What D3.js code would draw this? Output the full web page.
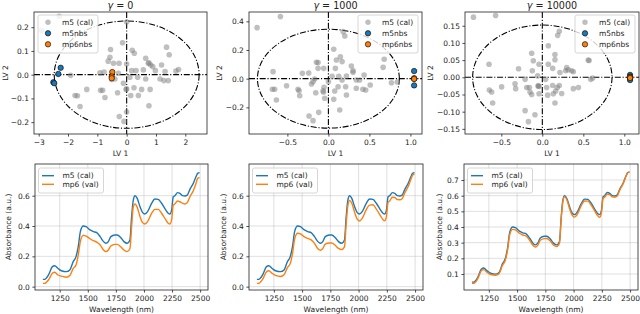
<!DOCTYPE html>
<html>
<head>
<meta charset="utf-8">
<script src="https://cdn.jsdelivr.net/npm/d3@7"></script>
<style>
  body { margin: 0; background: #fff; }
  text { font-family: "DejaVu Sans", sans-serif; }
</style>
</head>
<body>
<script>
// ---- data ----
var gammas = ['0', '1000', '10000'];

// LV1 / LV2 scores, one array per panel
var cal0 = [[-2.30,0.246],[-2.9,0.185],[0.0,0.222],[-0.14,0.134],[0.19,0.103],[0.26,0.09],[1.36,0.116],[1.45,0.084],
  [-0.55,0.106],[-0.57,0.073],[-0.63,0.057],[-0.45,0.048],[-0.26,0.048],[0.0,0.045],[0.65,0.069],[0.74,0.048],[0.76,0.05],
  [0.82,0.041],[0.89,0.034],[1.19,0.041],[1.31,0.013],[1.68,0.015],[1.77,0.022],[0.17,0.017],[0.32,0.017],[0.57,0.020],
  [0.98,0.017],[-1.91,-0.003],[-0.91,0.008],[-0.77,0.011],[-0.28,0.006],[-0.40,-0.018],[-0.51,-0.02],[-0.11,-0.036],
  [0.11,-0.011],[0.375,-0.011],[0.65,-0.018],[1.14,-0.018],[1.27,-0.025],[1.42,-0.025],[-1.36,-0.062],[-0.89,-0.066],
  [-0.82,-0.066],[-0.74,-0.096],[-0.31,-0.076],[-0.02,-0.062],[0.0,-0.06],[0.25,-0.055],[0.14,-0.088],[0.51,-0.062],
  [0.80,-0.062],[0.40,-0.088],[-1.76,-0.088],[-1.68,-0.089],[-1.59,-0.134],[0.76,-0.131],[0.0,-0.157],[-0.25,-0.176],
  [-0.09,-0.197]];
var m5nbs0 = [[-2.25,0.029],[-2.33,0.003],[-2.5,-0.032],[-2.47,-0.036]];
var mp6nbs0 = [[-0.49,0.011],[-0.51,-0.008],[-0.51,-0.015]];

var cal1 = [[-0.87,0.356],[-0.585,0.433],[0.18,0.328],[0.2,0.298],[0.065,0.205],[0.146,0.153],[0.098,0.13],[0.167,0.119],
  [0.68,0.135],[-0.146,0.114],[-0.126,0.112],[-0.126,0.072],[-0.057,0.072],[0.085,0.072],[0.28,0.088],[0.3,0.056],
  [0.3,0.044],[0.667,0.079],[-0.675,0.049],[-0.317,0.037],[-0.24,0.04],[0.22,0.019],[0.045,0.016],[0.126,0.016],
  [0.435,0.026],[0.768,-0.028],[0.84,-0.023],[-0.167,-0.002],[-0.187,-0.021],[0.0,-0.021],[0.167,-0.009],[0.34,-0.009],
  [0.38,-0.009],[-0.51,-0.049],[-0.655,-0.074],[-0.683,-0.074],[-0.37,-0.074],[-0.358,-0.084],[-0.35,-0.119],
  [-0.207,-0.037],[-0.053,-0.06],[-0.065,-0.084],[-0.06,-0.095],[-0.154,-0.098],[0.077,-0.086],[0.118,-0.056],
  [0.21,-0.056],[0.22,-0.114],[0.34,-0.067],[0.42,-0.074],[0.455,-0.079],[0.51,-0.044],[-0.045,-0.137],[0.065,-0.144],
  [-0.634,-0.149],[0.138,-0.219],[-0.118,-0.235],[-0.236,-0.26],[-0.187,-0.293]];
var m5nbs1 = [[1.045,0.053],[1.045,0.0],[1.045,-0.047]];
var mp6nbs1 = [[1.045,0.003],[1.045,-0.002]];

var cal2 = [[-0.84,0.175],[-0.57,0.18],[0.207,0.134],[0.187,0.122],[0.073,0.092],[0.154,0.066],[-0.13,0.07],[0.154,0.051],
  [-0.11,0.048],[-0.04,0.038],[-0.65,0.038],[0.073,0.038],[0.126,0.026],[0.56,0.05],[0.57,0.049],[-0.29,0.025],
  [-0.122,0.019],[-0.057,0.004],[-0.21,-0.006],[0.297,0.028],[0.317,0.022],[0.358,0.019],[0.285,0.019],[0.215,0.014],
  [0.378,0.016],[0.59,-0.006],[0.614,-0.002],[0.04,-0.006],[-0.333,-0.019],[-0.325,-0.033],[-0.496,-0.028],[-0.19,-0.03],
  [-0.158,-0.03],[-0.049,-0.024],[-0.05,-0.026],[-0.04,-0.027],[0.053,-0.03],[0.126,-0.024],[0.163,-0.04],[0.183,-0.03],
  [0.207,-0.024],[0.378,-0.033],[0.44,-0.03],[0.236,-0.047],[0.134,-0.048],[-0.646,-0.037],[-0.618,-0.043],
  [-0.606,-0.075],[-0.15,-0.043],[-0.13,-0.05],[-0.04,-0.048],[0.065,-0.052],[0.154,-0.075],[-0.21,-0.097],
  [-0.09,-0.109],[-0.17,-0.129]];
var m5nbs2 = [[1.07,0.007],[1.07,0.002],[1.07,-0.004],[1.07,-0.008]];
var mp6nbs2 = [[1.07,0.0],[1.07,-0.002]];

var ellipseRx = [2.47, 0.865, 0.85];
var ellipseRy = [0.226, 0.345, 0.152];

var lvXTicks = [[-3,-2,-1,0,1,2], [-0.5,0,0.5,1], [-0.5,0,0.5,1]];
var lvYTicks = [[-0.2,-0.1,0,0.1,0.2], [-0.2,0,0.2,0.4], [-0.15,-0.1,-0.05,0,0.05,0.1,0.15]];
var lvXDomains = [[-3.16,2.74], [-0.968,1.141], [-0.943,1.179]];
var lvYDomains = [[-0.25,0.264], [-0.386,0.465], [-0.165,0.19]];

// mean spectra
var wavelength = [1100,1115,1150,1185,1205,1235,1265,1310,1340,1370,1395,1415,1435,1460,1485,1520,1550,1580,1610,1640,
  1662,1683,1705,1740,1762,1792,1822,1850,1875,1890,1905,1920,1940,1965,1988,2008,2032,2068,2097,2127,2157,2195,2216,
  2231,2246,2261,2275,2299,2320,2344,2364,2385,2409,2439,2463,2478,2495];
var m5cal = [0.048,0.048,0.077,0.132,0.138,0.120,0.105,0.099,0.110,0.165,0.198,0.264,0.367,0.400,0.396,0.374,0.363,0.356,
  0.330,0.297,0.286,0.297,0.330,0.341,0.341,0.325,0.297,0.286,0.308,0.460,0.571,0.600,0.582,0.527,0.488,0.479,0.495,
  0.550,0.578,0.576,0.550,0.505,0.484,0.479,0.505,0.593,0.600,0.620,0.615,0.600,0.598,0.604,0.642,0.681,0.725,0.747,0.752];
var mp6val0 = [0.022,0.022,0.044,0.088,0.095,0.077,0.070,0.062,0.073,0.120,0.143,0.209,0.303,0.338,0.334,0.316,0.303,0.294,
  0.275,0.242,0.231,0.242,0.268,0.279,0.279,0.264,0.242,0.231,0.250,0.396,0.527,0.545,0.523,0.462,0.422,0.413,0.429,
  0.484,0.510,0.510,0.484,0.440,0.418,0.413,0.440,0.538,0.545,0.565,0.560,0.550,0.545,0.554,0.593,0.633,0.681,0.714,0.719];
var mp6val1 = [0.022,0.022,0.048,0.098,0.105,0.088,0.074,0.067,0.078,0.126,0.152,0.218,0.318,0.352,0.348,0.328,0.318,0.309,
  0.285,0.250,0.240,0.252,0.280,0.288,0.288,0.274,0.252,0.244,0.262,0.412,0.535,0.568,0.550,0.490,0.445,0.433,0.450,
  0.508,0.538,0.540,0.512,0.466,0.442,0.435,0.462,0.555,0.565,0.590,0.588,0.574,0.573,0.580,0.620,0.660,0.708,0.735,0.742];
var mp6val2 = [0.040,0.040,0.068,0.122,0.128,0.110,0.097,0.092,0.102,0.155,0.186,0.250,0.352,0.385,0.382,0.360,0.349,0.342,
  0.317,0.283,0.272,0.283,0.315,0.326,0.327,0.312,0.285,0.275,0.296,0.448,0.562,0.592,0.574,0.515,0.474,0.463,0.480,
  0.537,0.566,0.565,0.538,0.492,0.470,0.462,0.490,0.582,0.590,0.610,0.606,0.592,0.590,0.596,0.636,0.676,0.722,0.745,0.750];

var wlTicks = [1250,1500,1750,2000,2250,2500];
var absYTicks = [[0,0.2,0.4,0.6], [0,0.2,0.4,0.6], [0.1,0.2,0.3,0.4,0.5,0.6,0.7]];
var absYDomains = [[-0.022,0.809], [-0.022,0.809], [-0.002,0.802]];

var scatterLabels = ['m5 (cal)', 'm5nbs', 'mp6nbs'];
var lineLabels = ['m5 (cal)', 'mp6 (val)'];

// ---- drawing ----
var width = 640, height = 314;
var blue = '#1f77b4', orange = '#ff7f0e';
var fs = 7.5;

var svg = d3.select('body').append('svg')
  .attr('width', width)
  .attr('height', height);

var topBoxes = [[34,207], [249,422], [465,639]];
var botBoxes = [[35,208], [249,423], [464,638]];
var topY = [12,134], botY = [164,290];
var yLabelX = [[5,219,430], [8,223,439]];

function styleAxis(g) {
  g.select('.domain').remove();
  g.selectAll('.tick line').attr('stroke', '#222').attr('stroke-width', 0.8);
  g.selectAll('.tick text').attr('font-size', fs).attr('fill', '#222').style('font-family', '"DejaVu Sans", sans-serif');
}

function fmtFor(ticks) {
  var maxDec = d3.max(ticks, function(t) {
    var s = String(t); return s.indexOf('.') < 0 ? 0 : s.length - s.indexOf('.') - 1;
  });
  if (ticks.some(function(t) { return Math.abs(t) < 1 && t !== 0; }) && maxDec === 0) maxDec = 1;
  return d3.format('.' + maxDec + 'f');
}

function drawFrame(x0, x1, y0, y1) {
  svg.append('rect')
    .attr('x', x0).attr('y', y0)
    .attr('width', x1 - x0).attr('height', y1 - y0)
    .attr('fill', 'none').attr('stroke', '#222').attr('stroke-width', 0.8);
}

function drawAxes(x, y, xt, yt, x0, y0, y1, xFmt, yFmt) {
  svg.append('g').attr('transform', 'translate(0,' + y1 + ')')
    .call(d3.axisBottom(x).tickValues(xt).tickSize(2.6).tickPadding(3).tickFormat(xFmt))
    .call(styleAxis);
  svg.append('g').attr('transform', 'translate(' + x0 + ',0)')
    .call(d3.axisLeft(y).tickValues(yt).tickSize(2.6).tickPadding(2.5).tickFormat(yFmt))
    .call(styleAxis);
}

function legendBox(bx, by, bw, bh) {
  svg.append('rect')
    .attr('x', bx).attr('y', by).attr('width', bw).attr('height', bh)
    .attr('rx', 2)
    .attr('fill', 'white').attr('fill-opacity', 0.8)
    .attr('stroke', '#cccccc').attr('stroke-width', 0.8);
}

var scatterSets = [[cal0, m5nbs0, mp6nbs0], [cal1, m5nbs1, mp6nbs1], [cal2, m5nbs2, mp6nbs2]];

scatterSets.forEach(function(sets, i) {
  var x0 = topBoxes[i][0], x1 = topBoxes[i][1];
  var x = d3.scaleLinear().domain(lvXDomains[i]).range([x0, x1]);
  var y = d3.scaleLinear().domain(lvYDomains[i]).range([topY[1], topY[0]]);

  // confidence ellipse and zero lines
  svg.append('ellipse')
    .attr('cx', x(0)).attr('cy', y(0))
    .attr('rx', x(ellipseRx[i]) - x(0)).attr('ry', y(0) - y(ellipseRy[i]))
    .attr('fill', 'none').attr('stroke', '#000').attr('stroke-width', 1.1)
    .attr('stroke-dasharray', '6,1.8,1.1,1.8');
  svg.append('line')
    .attr('x1', x0).attr('x2', x1).attr('y1', y(0)).attr('y2', y(0))
    .attr('stroke', '#000').attr('stroke-width', 1.1).attr('stroke-dasharray', '6,1.8,1.1,1.8');
  svg.append('line')
    .attr('x1', x(0)).attr('x2', x(0)).attr('y1', topY[0]).attr('y2', topY[1])
    .attr('stroke', '#000').attr('stroke-width', 1.1).attr('stroke-dasharray', '6,1.8,1.1,1.8');

  svg.append('g').selectAll('circle').data(sets[0]).enter().append('circle')
    .attr('cx', function(d) { return x(d[0]); })
    .attr('cy', function(d) { return y(d[1]); })
    .attr('r', 2.8)
    .attr('fill', '#808080').attr('fill-opacity', 0.5);

  [[sets[1], blue], [sets[2], orange]].forEach(function(s) {
    svg.append('g').selectAll('circle').data(s[0]).enter().append('circle')
      .attr('cx', function(d) { return x(d[0]); })
      .attr('cy', function(d) { return y(d[1]); })
      .attr('r', 2.7)
      .attr('fill', s[1]).attr('stroke', '#000').attr('stroke-width', 0.6);
  });

  drawFrame(x0, x1, topY[0], topY[1]);
  drawAxes(x, y, lvXTicks[i], lvYTicks[i], x0, topY[0], topY[1], fmtFor(lvXTicks[i]), fmtFor(lvYTicks[i]));

  // title
  var t = svg.append('text')
    .attr('x', (x0 + x1) / 2).attr('y', 8.5)
    .attr('text-anchor', 'middle').attr('font-size', 9.6).attr('fill', '#222');
  t.append('tspan').attr('font-style', 'italic').text('γ');
  t.append('tspan').text(' = ' + gammas[i]);

  svg.append('text')
    .attr('x', (x0 + x1) / 2).attr('y', 156)
    .attr('text-anchor', 'middle').attr('font-size', fs).attr('fill', '#222')
    .text('LV 1');
  svg.append('text')
    .attr('transform', 'translate(' + yLabelX[0][i] + ',' + (topY[0] + topY[1]) / 2 + ') rotate(-90)')
    .attr('dy', '0.35em')
    .attr('text-anchor', 'middle').attr('font-size', fs).attr('fill', '#222')
    .text('LV 2');

  // legend
  var bx = i === 0 ? x0 + 4 : x1 - 64;
  legendBox(bx, 15, 60, 38);
  var colors = ['#808080', blue, orange];
  scatterLabels.forEach(function(lab, k) {
    var ly = 22.3 + k * 11;
    svg.append('circle')
      .attr('cx', bx + 10).attr('cy', ly).attr('r', 2.7)
      .attr('fill', colors[k]).attr('fill-opacity', k === 0 ? 0.5 : 1)
      .attr('stroke', k === 0 ? 'none' : '#000').attr('stroke-width', 0.6);
    svg.append('text')
      .attr('x', bx + 24).attr('y', ly).attr('dy', '0.35em')
      .attr('font-size', fs).attr('fill', '#222').text(lab);
  });
});

var valSets = [mp6val0, mp6val1, mp6val2];

valSets.forEach(function(val, i) {
  var x0 = botBoxes[i][0], x1 = botBoxes[i][1];
  var x = d3.scaleLinear().domain([1030, 2570]).range([x0, x1]);
  var y = d3.scaleLinear().domain(absYDomains[i]).range([botY[1], botY[0]]);

  // grid
  svg.append('g').selectAll('line').data(wlTicks).enter().append('line')
    .attr('x1', function(d) { return x(d); }).attr('x2', function(d) { return x(d); })
    .attr('y1', botY[0]).attr('y2', botY[1])
    .attr('stroke', '#b0b0b0').attr('stroke-opacity', 0.5).attr('stroke-width', 0.8);
  svg.append('g').selectAll('line').data(absYTicks[i]).enter().append('line')
    .attr('x1', x0).attr('x2', x1)
    .attr('y1', function(d) { return y(d); }).attr('y2', function(d) { return y(d); })
    .attr('stroke', '#b0b0b0').attr('stroke-opacity', 0.5).attr('stroke-width', 0.8);

  var line = d3.line()
    .x(function(d, k) { return x(wavelength[k]); })
    .y(function(d) { return y(d); })
    .curve(d3.curveMonotoneX);

  svg.append('path').datum(m5cal).attr('d', line)
    .attr('fill', 'none').attr('stroke', blue).attr('stroke-width', 1.4);
  svg.append('path').datum(val).attr('d', line)
    .attr('fill', 'none').attr('stroke', orange).attr('stroke-width', 1.4);

  drawFrame(x0, x1, botY[0], botY[1]);
  drawAxes(x, y, wlTicks, absYTicks[i], x0, botY[0], botY[1], d3.format('d'), d3.format('.1f'));

  svg.append('text')
    .attr('x', (x0 + x1) / 2).attr('y', 312)
    .attr('text-anchor', 'middle').attr('font-size', fs).attr('fill', '#222')
    .text('Wavelength (nm)');
  svg.append('text')
    .attr('transform', 'translate(' + yLabelX[1][i] + ',' + (botY[0] + botY[1]) / 2 + ') rotate(-90)')
    .attr('dy', '0.35em')
    .attr('text-anchor', 'middle').attr('font-size', fs).attr('fill', '#222')
    .text('Absorbance (a.u.)');

  var bx = x0 + 3.5;
  legendBox(bx, 168, 65, 25);
  [blue, orange].forEach(function(c, k) {
    var ly = 175.7 + k * 8.6;
    svg.append('line')
      .attr('x1', bx + 3.5).attr('x2', bx + 15.5).attr('y1', ly).attr('y2', ly)
      .attr('stroke', c).attr('stroke-width', 1.4);
    svg.append('text')
      .attr('x', bx + 24).attr('y', ly).attr('dy', '0.35em')
      .attr('font-size', fs).attr('fill', '#222').text(lineLabels[k]);
  });
});
</script>
</body>
</html>
